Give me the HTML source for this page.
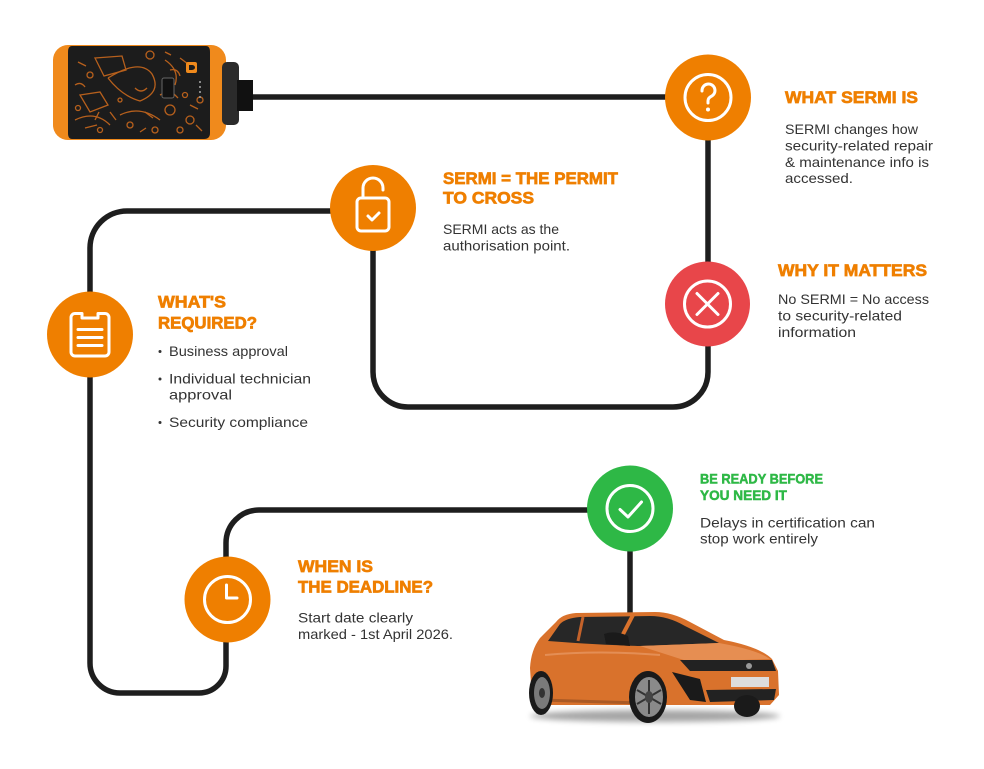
<!DOCTYPE html>
<html>
<head>
<meta charset="utf-8">
<style>
  html,body{margin:0;padding:0;background:#fff;}
  body{width:984px;height:769px;overflow:hidden;}
  svg{display:block;}
  .h{font-family:"Liberation Sans",Arial,sans-serif;font-weight:700;fill:#EF7F00;stroke:#EF7F00;stroke-width:0.7;}
  .g{font-family:"Liberation Sans",Arial,sans-serif;font-weight:700;fill:#2EB846;stroke:#2EB846;stroke-width:0.5;}
  .b{font-family:"Liberation Sans",Arial,sans-serif;font-size:14px;fill:#333;}
</style>
</head>
<body>
<svg width="984" height="769" viewBox="0 0 984 769" xmlns="http://www.w3.org/2000/svg">
  <defs>
    <filter id="blur" x="-20%" y="-200%" width="140%" height="500%"><feGaussianBlur stdDeviation="3"/></filter>
  </defs>

  <!-- connector lines -->
  <g fill="none" stroke="#1e1e1e" stroke-width="5.5" stroke-linecap="round" stroke-linejoin="round">
    <path d="M250,97 H708 V372 A35,35 0 0 1 673,407 H408 A35,35 0 0 1 373,372 V210"/>
    <path d="M373,211 H127 A37,37 0 0 0 90,248 V663 A30,30 0 0 0 120,693 H199 A27,27 0 0 0 226,666 V543 A33,33 0 0 1 259,510 H630 V614"/>
  </g>

  <!-- device -->
  <g>
    <rect x="53" y="45" width="173" height="95" rx="15" fill="#F08A1C"/>
    <path d="M72,46 H206 Q210,46 210,52 V133 Q210,139 204,139 H72 Q68,139 68,133 V52 Q68,46 72,46 Z" fill="#1c1c1c"/>
    <rect x="222" y="62" width="17" height="63" rx="5" fill="#2b2b2b"/>
    <rect x="237" y="80" width="16" height="31" fill="#111"/>
    <g fill="none" stroke="#C0641C" stroke-width="1.3" opacity="0.95">
      <path d="M95,58 L122,56 L126,70 L104,76 Z"/>
      <path d="M108,78 Q140,58 152,74 Q162,92 140,101 Q122,96 108,78"/>
      <path d="M80,95 L100,92 L108,105 L90,112 Z"/>
      <path d="M75,120 Q95,110 110,125 M120,115 Q140,105 160,120 M165,60 Q180,70 175,85"/>
      <circle cx="150" cy="55" r="4"/><circle cx="170" cy="110" r="5"/><circle cx="90" cy="75" r="3"/>
      <circle cx="190" cy="120" r="4"/><circle cx="130" cy="125" r="3"/><circle cx="200" cy="100" r="3"/>
      <circle cx="180" cy="130" r="3"/><circle cx="100" cy="130" r="2.5"/><circle cx="155" cy="130" r="3"/>
      <circle cx="78" cy="108" r="2.5"/><circle cx="185" cy="95" r="2.5"/><circle cx="120" cy="100" r="2"/>
      <path d="M160,95 l10,-5 l8,8 M180,58 l8,6 M85,128 l12,-3 M145,112 l8,6 M78,62 l8,4 M110,112 l6,8 M190,105 l8,4 M140,132 l6,-4 M196,125 l6,6 M165,52 l6,3"/>
      <path d="M75,85 q6,-4 10,2 M135,88 q6,6 12,0 M95,120 l4,-8 M170,70 q8,-2 10,6"/>
    </g>
    <rect x="162" y="78" width="12" height="20" rx="2" fill="#111" stroke="#666" stroke-width="1"/>
    <rect x="186" y="62" width="11" height="11" rx="2" fill="#F08A1C"/>
    <path d="M189,65 h3 a3,2.5 0 0 1 0,5 h-3 z" fill="#1c1c1c"/>
    <g fill="#aaa"><circle cx="200" cy="82" r="1"/><circle cx="200" cy="87" r="1"/><circle cx="200" cy="92" r="1"/><circle cx="200" cy="97" r="1"/></g>
  </g>

  <!-- circles -->
  <circle cx="708" cy="97.5" r="43" fill="#EF7F00"/>
  <circle cx="373" cy="208" r="43" fill="#EF7F00"/>
  <circle cx="707.5" cy="304" r="42.5" fill="#E8464A"/>
  <circle cx="90" cy="334.5" r="43" fill="#EF7F00"/>
  <circle cx="227.5" cy="599.5" r="43" fill="#EF7F00"/>
  <circle cx="630" cy="508.5" r="43" fill="#2EB846"/>

  <!-- icons -->
  <g fill="none" stroke="#fff" stroke-width="3" stroke-linecap="round" stroke-linejoin="round">
    <circle cx="708" cy="97.5" r="23"/>
    <path d="M702,91 A6.5,6.5 0 1 1 711,96.5 Q708,98 708,101 V103"/>
    <rect x="357" y="198" width="32" height="33" rx="4"/>
    <path d="M363,198 V188 A10,10 0 0 1 383,188 V190"/>
    <path d="M368,216 l4,4 l7,-7"/>
    <circle cx="707.5" cy="304" r="23"/>
    <path d="M697,293.5 L718,314.5 M718,293.5 L697,314.5"/>
    <path d="M82,313.5 H75 a4,4 0 0 0 -4,4 V352 a4,4 0 0 0 4,4 H105 a4,4 0 0 0 4,-4 V317.5 a4,4 0 0 0 -4,-4 H98 V318 H82 Z"/>
    <path d="M78,329.5 H102 M78,337.5 H102 M78,345.5 H102"/>
    <circle cx="227.5" cy="599.5" r="23"/>
    <path d="M226.5,585 V598 H237"/>
    <circle cx="630" cy="508.5" r="23"/>
    <path d="M620,509.5 L628,517 L641.5,502"/>
  </g>
  <circle cx="708" cy="109.5" r="2" fill="#fff"/>

  <!-- car -->
  <g>
    <ellipse cx="655" cy="716" rx="125" ry="6" fill="#000" opacity="0.35" filter="url(#blur)"/>
    <path d="M532,700 L530,668 Q531,650 540,638 L556,622 Q562,614 576,613 L655,612 Q672,612 690,622 L724,640 Q760,647 772,659 L778,671 L779,695 L770,705 L540,705 Z" fill="#D9722C"/>
    <path d="M548,641 L560,624 Q566,618 580,617 L650,616 Q668,616 685,626 L719,643 L640,646 Q600,645 548,641 Z" fill="#272727"/>
    <path d="M633,615 L620,640" stroke="#D9722C" stroke-width="4"/>
    <path d="M583,617 L578,641" stroke="#C4622A" stroke-width="3"/>
    <path d="M604,634 Q615,630 628,636 L630,646 L606,644 Z" fill="#1a1a1a"/>
    <path d="M640,646 L719,643 Q758,650 770,659 L690,662 Z" fill="#E68E52"/>
    <path d="M545,655 Q600,650 660,655" stroke="#E89A66" stroke-width="2" fill="none" opacity="0.7"/>
    <path d="M680,660 L772,660 L776,671 L690,671 Z" fill="#222"/>
    <path d="M672,672 L700,679 L706,702 L690,700 Z" fill="#1a1a1a"/>
    <path d="M706,690 L776,689 L774,700 L710,702 Z" fill="#222"/>
    <rect x="731" y="677" width="38" height="10" fill="#ddd"/>
    <circle cx="749" cy="666" r="3" fill="#999"/>
    <path d="M540,700 L640,703 L650,700" stroke="#8a4a20" stroke-width="3" fill="none" opacity="0.6"/>
    <ellipse cx="747" cy="706" rx="13" ry="11" fill="#1a1a1a"/>
    <ellipse cx="541" cy="693" rx="12" ry="22" fill="#1a1a1a"/>
    <ellipse cx="542" cy="693" rx="8" ry="16" fill="#7a7a7a"/>
    <ellipse cx="542" cy="693" rx="3" ry="5" fill="#333"/>
    <ellipse cx="648" cy="697" rx="19" ry="26" fill="#1a1a1a"/>
    <ellipse cx="649" cy="697" rx="14" ry="20" fill="#8a8a8a"/>
    <g stroke="#333" stroke-width="2"><path d="M649,680 V714 M637,690 L661,704 M637,704 L661,690"/></g>
    <ellipse cx="649" cy="697" rx="4" ry="6" fill="#444"/>
  </g>

  <!-- text: WHAT SERMI IS -->
  <text class="h" x="785" y="103" font-size="17" textLength="133" lengthAdjust="spacingAndGlyphs">WHAT SERMI IS</text>
  <text class="b" x="785" y="134" textLength="133" lengthAdjust="spacingAndGlyphs">SERMI changes how</text>
  <text class="b" x="785" y="150.5" textLength="148" lengthAdjust="spacingAndGlyphs">security-related repair</text>
  <text class="b" x="785" y="167" textLength="144" lengthAdjust="spacingAndGlyphs">&amp; maintenance info is</text>
  <text class="b" x="785" y="183" textLength="68" lengthAdjust="spacingAndGlyphs">accessed.</text>

  <!-- SERMI = THE PERMIT -->
  <text class="h" x="443" y="184" font-size="17" textLength="175" lengthAdjust="spacingAndGlyphs">SERMI = THE PERMIT</text>
  <text class="h" x="443" y="203.5" font-size="17" textLength="91" lengthAdjust="spacingAndGlyphs">TO CROSS</text>
  <text class="b" x="443" y="234" textLength="116" lengthAdjust="spacingAndGlyphs">SERMI acts as the</text>
  <text class="b" x="443" y="250.5" textLength="127" lengthAdjust="spacingAndGlyphs">authorisation point.</text>

  <!-- WHY IT MATTERS -->
  <text class="h" x="778" y="276" font-size="17" textLength="149" lengthAdjust="spacingAndGlyphs">WHY IT MATTERS</text>
  <text class="b" x="778" y="304" textLength="151" lengthAdjust="spacingAndGlyphs">No SERMI = No access</text>
  <text class="b" x="778" y="320.5" textLength="124" lengthAdjust="spacingAndGlyphs">to security-related</text>
  <text class="b" x="778" y="337" textLength="78" lengthAdjust="spacingAndGlyphs">information</text>

  <!-- WHAT'S REQUIRED -->
  <text class="h" x="158" y="307.5" font-size="17" textLength="68" lengthAdjust="spacingAndGlyphs">WHAT'S</text>
  <text class="h" x="158" y="328.5" font-size="17" textLength="99" lengthAdjust="spacingAndGlyphs">REQUIRED?</text>
  <g fill="#333"><circle cx="160" cy="351.5" r="1.5"/><circle cx="160" cy="379" r="1.5"/><circle cx="160" cy="422.5" r="1.5"/></g>
  <text class="b" x="169" y="356" textLength="119" lengthAdjust="spacingAndGlyphs">Business approval</text>
  <text class="b" x="169" y="383.5" textLength="142" lengthAdjust="spacingAndGlyphs">Individual technician</text>
  <text class="b" x="169" y="399.5" textLength="63" lengthAdjust="spacingAndGlyphs">approval</text>
  <text class="b" x="169" y="427" textLength="139" lengthAdjust="spacingAndGlyphs">Security compliance</text>

  <!-- WHEN IS THE DEADLINE -->
  <text class="h" x="298" y="572" font-size="17" textLength="75" lengthAdjust="spacingAndGlyphs">WHEN IS</text>
  <text class="h" x="298" y="592.5" font-size="17" textLength="135" lengthAdjust="spacingAndGlyphs">THE DEADLINE?</text>
  <text class="b" x="298" y="622.5" textLength="115" lengthAdjust="spacingAndGlyphs">Start date clearly</text>
  <text class="b" x="298" y="639" textLength="155" lengthAdjust="spacingAndGlyphs">marked - 1st April 2026.</text>

  <!-- BE READY -->
  <text class="g" x="700" y="483.5" font-size="14" textLength="123" lengthAdjust="spacingAndGlyphs">BE READY BEFORE</text>
  <text class="g" x="700" y="500" font-size="14" textLength="87" lengthAdjust="spacingAndGlyphs">YOU NEED IT</text>
  <text class="b" x="700" y="527.5" textLength="175" lengthAdjust="spacingAndGlyphs">Delays in certification can</text>
  <text class="b" x="700" y="543.5" textLength="118" lengthAdjust="spacingAndGlyphs">stop work entirely</text>
</svg>
</body>
</html>
